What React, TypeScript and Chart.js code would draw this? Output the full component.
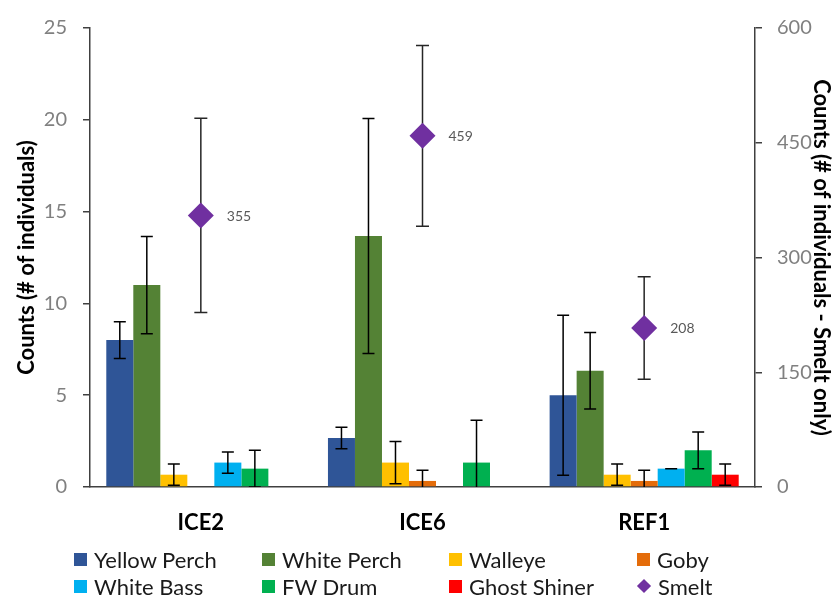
import React, { useEffect, useRef } from 'react';
import { Chart, registerables } from 'chart.js';

Chart.register(...registerables);

const categories = ['ICE2', 'ICE6', 'REF1'];
const yellowPerch = [8, 2.67, 5];
const yellowPerchErr = [1, 0.58, 4.36];
const whitePerch = [11, 13.67, 6.33];
const whitePerchErr = [2.65, 6.4, 2.08];
const walleye = [0.67, 1.33, 0.67];
const walleyeErr = [0.58, 1.15, 0.58];
const goby = [0, 0.33, 0.33];
const gobyErr = [0, 0.58, 0.58];
const whiteBass = [1.33, 0, 1];
const whiteBassErr = [0.58, 0, 0];
const fwDrum = [1, 1.33, 2];
const fwDrumErr = [1, 2.31, 1];
const ghostShiner = [0, 0, 0.67];
const ghostShinerErr = [0, 0, 0.58];
const smelt = [355, 459, 208];
const smeltErr = [127, 118, 67];

const leftAxisMax = 25;
const leftAxisStep = 5;
const rightAxisMax = 600;
const rightAxisStep = 150;

const FONT = 'Lato, "Open Sans", sans-serif';

const barSeries = [
  { label: 'Yellow Perch', data: yellowPerch, err: yellowPerchErr, color: '#2F5597' },
  { label: 'White Perch', data: whitePerch, err: whitePerchErr, color: '#548235' },
  { label: 'Walleye', data: walleye, err: walleyeErr, color: '#FFC000' },
  { label: 'Goby', data: goby, err: gobyErr, color: '#E46C0A' },
  { label: 'White Bass', data: whiteBass, err: whiteBassErr, color: '#00B0F0' },
  { label: 'FW Drum', data: fwDrum, err: fwDrumErr, color: '#00B050' },
  { label: 'Ghost Shiner', data: ghostShiner, err: ghostShinerErr, color: '#FF0000' },
];
const smeltColor = '#7030A0';

const legendOrder = [
  'Yellow Perch', 'White Perch', 'Walleye', 'Goby',
  'White Bass', 'FW Drum', 'Ghost Shiner', 'Smelt',
];

function drawErrors(chart: any, index: number) {
  const ds: any = chart.data.datasets[index];
  if (!ds.errors) return;
  const meta = chart.getDatasetMeta(index);
  const yScale = chart.scales[ds.yAxisID || 'y'];
  const ctx = chart.ctx;
  const area = chart.chartArea;
  ctx.save();
  ctx.beginPath();
  ctx.rect(area.left, area.top - 2, area.right - area.left, area.bottom - area.top + 2);
  ctx.clip();
  ctx.strokeStyle = ds.errColor || '#000';
  ctx.lineWidth = 1.5;
  meta.data.forEach((el: any, i: number) => {
    const v = ds.data[i];
    if (!v) return;
    const e = ds.errors[i];
    const x = el.x;
    const yTop = yScale.getPixelForValue(v + e);
    const yBot = yScale.getPixelForValue(v - e);
    const cap = ds.capHalf || 6;
    ctx.beginPath();
    ctx.moveTo(x, yTop);
    ctx.lineTo(x, yBot);
    ctx.moveTo(x - cap, yTop);
    ctx.lineTo(x + cap, yTop);
    ctx.moveTo(x - cap, yBot);
    ctx.lineTo(x + cap, yBot);
    ctx.stroke();
  });
  ctx.restore();
}

const errorBarPlugin = {
  id: 'errorBars',
  beforeDatasetDraw(chart: any, args: any) {
    const ds: any = chart.data.datasets[args.index];
    if (ds.type === 'line') drawErrors(chart, args.index);
  },
  afterDatasetDraw(chart: any, args: any) {
    const ds: any = chart.data.datasets[args.index];
    if (ds.type !== 'line') drawErrors(chart, args.index);
  },
  afterDatasetsDraw(chart: any) {
    const ctx = chart.ctx;
    chart.data.datasets.forEach((ds: any, idx: number) => {
      if (ds.type !== 'line') return;
      const meta = chart.getDatasetMeta(idx);
      ctx.save();
      ctx.font = `14px ${FONT}`;
      ctx.fillStyle = '#595959';
      ctx.textAlign = 'left';
      ctx.textBaseline = 'middle';
      meta.data.forEach((el: any, i: number) => {
        ctx.fillText(String(ds.data[i]), el.x + 26, el.y + 1);
      });
      ctx.restore();
    });
  },
};

export default function App() {
  const canvasRef = useRef<HTMLCanvasElement | null>(null);

  useEffect(() => {
    document.body.style.margin = '0';
    const canvas = canvasRef.current;
    if (!canvas) return;
    const datasets: any[] = [
      {
        type: 'line',
        label: 'Smelt',
        data: smelt,
        errors: smeltErr,
        errColor: '#262626',
        capHalf: 6.5,
        yAxisID: 'y1',
        showLine: false,
        pointStyle: 'rectRot',
        pointRadius: 13,
        pointHoverRadius: 13,
        backgroundColor: smeltColor,
        borderColor: smeltColor,
        borderWidth: 0,
        order: -1,
      },
      ...barSeries.map((s) => ({
        type: 'bar',
        label: s.label,
        data: s.data,
        errors: s.err,
        backgroundColor: s.color,
        borderWidth: 0,
        yAxisID: 'y',
        barPercentage: 1,
        categoryPercentage: 0.853,
      })),
    ];

    const chart = new Chart(canvas, {
      type: 'bar',
      data: { labels: categories, datasets },
      plugins: [errorBarPlugin],
      options: {
        responsive: false,
        animation: false,
        events: [],
        layout: { padding: { top: 19, left: 0, right: 0, bottom: 0 }, autoPadding: false },
        plugins: {
          legend: { display: false },
          tooltip: { enabled: false },
          title: { display: false },
        },
        scales: {
          x: {
            type: 'category',
            offset: true,
            grid: { display: true, drawOnChartArea: false, drawTicks: false },
            border: { display: true, color: '#404040', width: 1.5 },
            ticks: {
              padding: 23,
              color: '#000',
              font: { family: FONT, size: 22, weight: 'bold' },
            },
            afterFit: (scale: any) => { scale.height = 112; },
          },
          y: {
            type: 'linear',
            position: 'left',
            min: 0,
            max: leftAxisMax,
            ticks: {
              stepSize: leftAxisStep,
              padding: 16,
              color: '#808080',
              font: { family: FONT, size: 20 },
            },
            grid: { drawOnChartArea: false, drawTicks: true, tickLength: 7, color: '#404040', lineWidth: 1.5 },
            border: { display: true, color: '#404040', width: 1.5 },
            title: {
              display: true,
              text: 'Counts (# of individuals)',
              color: '#000',
              font: { family: FONT, size: 22, weight: 'bold' },
              padding: { top: 14, bottom: 0 },
            },
            afterFit: (scale: any) => { scale.width = 90; },
          },
          y1: {
            type: 'linear',
            position: 'right',
            min: 0,
            max: rightAxisMax,
            ticks: {
              stepSize: rightAxisStep,
              padding: 15,
              color: '#808080',
              font: { family: FONT, size: 20 },
            },
            grid: { drawOnChartArea: false, drawTicks: true, tickLength: 7, color: '#404040', lineWidth: 1.5 },
            border: { display: true, color: '#404040', width: 1.5 },
            title: {
              display: true,
              text: 'Counts (# of individuals - Smelt only)',
              color: '#000',
              font: { family: FONT, size: 22, weight: 'bold' },
              padding: { top: 6, bottom: 0 },
            },
            afterFit: (scale: any) => { scale.width = 85; },
          },
        },
      } as any,
    });
    return () => chart.destroy();
  }, []);

  const colLeft = [74, 262, 449, 637];
  const rowTop = [559, 586];
  const colorOf = (name: string) =>
    name === 'Smelt' ? smeltColor : (barSeries.find((s) => s.label === name) || { color: '#000' }).color;

  return (
    <div style={{ position: 'relative', width: 840, height: 599, overflow: 'hidden', background: '#fff' }}>
      <canvas ref={canvasRef} width={840} height={599} style={{ display: 'block' }} />
      {legendOrder.map((name, i) => {
        const col = i % 4;
        const row = Math.floor(i / 4);
        const isSmelt = name === 'Smelt';
        return (
          <div
            key={name}
            style={{
              position: 'absolute',
              left: colLeft[col],
              top: rowTop[row] - 13,
              height: 26,
              display: 'flex',
              alignItems: 'center',
              fontFamily: FONT,
              fontSize: 22,
              color: '#1a1a1a',
              whiteSpace: 'nowrap',
            }}
          >
            <span
              style={{
                display: 'inline-block',
                width: isSmelt ? 10 : 13,
                height: isSmelt ? 10 : 13,
                marginLeft: isSmelt ? 2 : 0,
                marginRight: isSmelt ? 9 : 7,
                background: colorOf(name),
                transform: isSmelt ? 'rotate(45deg)' : 'none',
              }}
            />
            <span>{name}</span>
          </div>
        );
      })}
    </div>
  );
}
